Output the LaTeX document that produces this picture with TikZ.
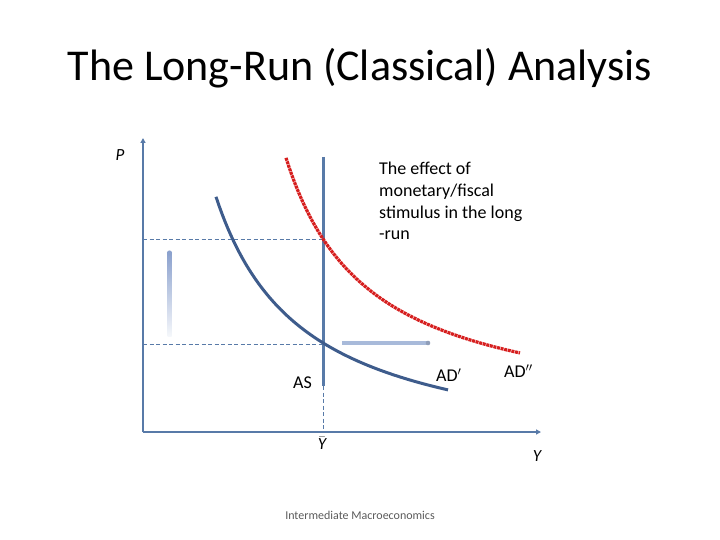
\documentclass[tikz,border=0pt]{standalone}
\usepackage{fontspec}
\setmainfont{Carlito}
\usetikzlibrary{arrows.meta,positioning}
\definecolor{axisblue}{RGB}{88,122,168}
\definecolor{curveblue}{RGB}{62,92,140}
\definecolor{adred}{RGB}{214,30,30}
\definecolor{pathblue}{RGB}{168,186,218}
\definecolor{markertop}{RGB}{140,162,206}
\definecolor{footgray}{RGB}{90,90,90}

\begin{document}
\begin{tikzpicture}[x=1pt, y=-1pt,
  axisline/.style={axisblue, line width=2.4pt, -{Triangle[length=5pt, width=5pt]}},
  guide/.style={axisblue, line width=0.8pt, dash pattern=on 4pt off 2.5pt},
  adcurve/.style={curveblue, line width=3pt},
  adshift/.style={adred, line width=3.2pt, dash pattern=on 3pt off 0.7pt},
  lbl/.style={font=\fontsize{18}{21}\selectfont, inner sep=0pt},
  axlbl/.style={font=\itshape\fontsize{17}{20}\selectfont, inner sep=0pt}
]
\useasboundingbox (0,0) rectangle (720,540);

% title and footer
\node[font=\fontsize{44}{52}\selectfont, inner sep=0pt] (title) at (360,68) {The Long-Run (Classical) Analysis};
\node[font=\fontsize{12}{14}\selectfont, text=footgray, inner sep=0pt] (foot) at (360,515) {Intermediate Macroeconomics};

% axes
\coordinate (O) at (143,432);
\coordinate (ytop) at (143,138);
\coordinate (xend) at (541,432);
\draw[axisline] (O) -- (ytop);
\draw[axisline] (O) -- (xend);
\node[axlbl] (P) at (120,155) {P};
\node[axlbl] (Y) at (537,456) {Y};
\node[axlbl] (Ybar) at (322,443) {$\bar{\mbox{\itshape Y}}$};

% long-run supply
\coordinate (astop) at (323,157);
\coordinate (asbot) at (323,386);
\draw[axisblue, line width=3pt] (astop) -- (asbot);
\draw[guide] (asbot) -- (O -| asbot);

% price levels
\coordinate (phigh) at (323,239);
\coordinate (plow) at (323,344);
\draw[guide] (O |- phigh) -- (phigh);
\draw[guide] (O |- plow) -- (plow);

% demand curves
\draw[adcurve] plot[domain=216:448, samples=80] (\x, {463.3-234.91/((\x-127.8)*0.01)});
\draw[adshift] plot[domain=286:520, samples=80] (\x, {423.1-222.96/((\x-201.9)*0.01)});

% movement markers
\shade[top color=markertop, bottom color=pathblue!12] (167.5,253) rectangle (171.5,336);
\fill[markertop] (169.5,253) circle (2.6pt);
\draw[pathblue, line width=4pt] (342,343) -- (428,343);
\fill[pathblue!85!black] (428,343) circle (2.3pt);

% labels
\node[lbl, anchor=west] (aslbl) at (293,383) {AS};
\node[lbl, anchor=west] (adlbl) at (436,375) {AD$'$};
\node[lbl, anchor=west] (ad2lbl) at (504,371) {AD$''$};
\node[lbl, anchor=north west, align=left, font=\fontsize{18}{21.7}\selectfont] (note) at (379,162) {The effect of\\monetary/fiscal\\stimulus in the long\\-run};
\end{tikzpicture}
\end{document}
